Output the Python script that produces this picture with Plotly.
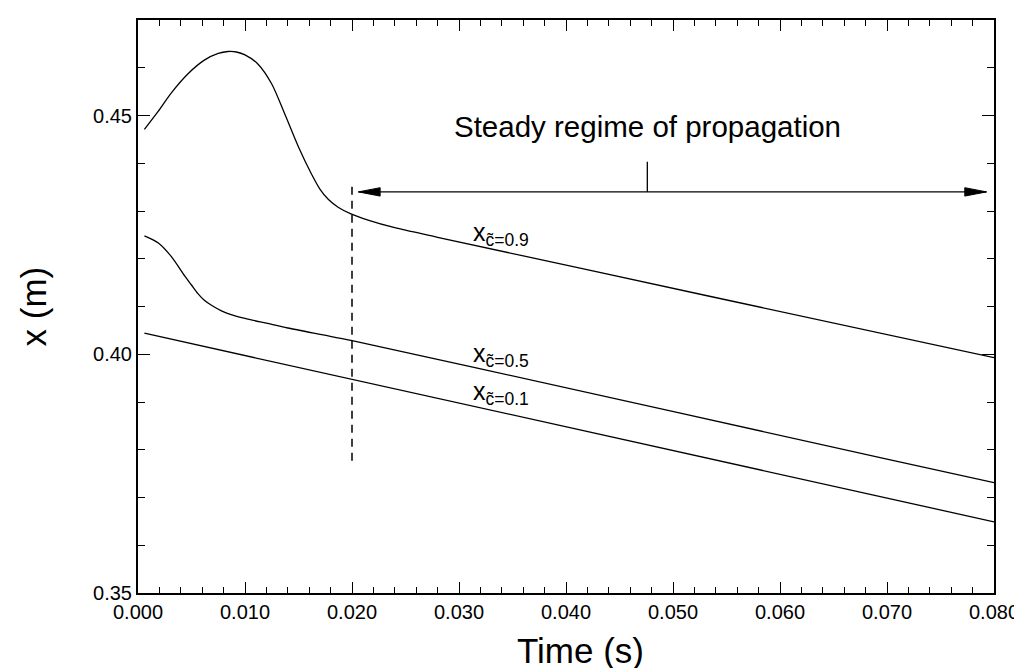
import plotly.graph_objects as go

# curve readings (time in s, position in m)
t_09 = [0.0006, 0.0019, 0.0031, 0.0047, 0.0062, 0.0075, 0.0084, 0.0092, 0.0100, 0.0112,
        0.0125, 0.0137, 0.0150, 0.0162, 0.0170, 0.0178, 0.0187, 0.0199, 0.0215, 0.0240,
        0.0280, 0.0533, 0.0800]
x_09 = [0.4471, 0.4509, 0.4547, 0.4588, 0.4616, 0.4630, 0.4634, 0.4633, 0.4627, 0.4608,
        0.4566, 0.4504, 0.4434, 0.4378, 0.4346, 0.4324, 0.4308, 0.4294, 0.4281, 0.4265,
        0.4245, 0.4122, 0.3993]

t_05 = [0.0006, 0.0019, 0.0031, 0.0044, 0.0050, 0.0056, 0.0062, 0.0069, 0.0078, 0.0087,
        0.0100, 0.0120, 0.0140, 0.0199, 0.0315, 0.0701, 0.0800]
x_05 = [0.4248, 0.4233, 0.4205, 0.4163, 0.4145, 0.4127, 0.4113, 0.4102, 0.4091, 0.4083,
        0.4075, 0.4065, 0.4055, 0.4029, 0.3972, 0.3780, 0.3731]

t_01 = [0.0006, 0.0199, 0.0701, 0.0800]
x_01 = [0.4044, 0.3948, 0.3698, 0.3649]

curve_labels = ["0.9", "0.5", "0.1"]
label_t = [0.0311, 0.0311, 0.0311]
label_x = [0.4252, 0.3998, 0.3919]

# steady regime marker
t_steady = 0.020
dash_x = [0.4351, 0.3765]
arrow_t = [0.0206, 0.0793]
arrow_x = 0.4340
mark_t = 0.0476
mark_x = [0.4340, 0.4403]
text_x = 0.4476

# arrowhead size in data units (about 22 px long, 9 px wide)
head_len = 0.00203
head_half = 0.00088

FONT = "Liberation Sans, Arial, sans-serif"
line = dict(color="black", width=1.3)

fig = go.Figure()
fig.add_trace(go.Scatter(x=t_09, y=x_09, mode="lines", line=dict(shape="spline", smoothing=0.8, **line)))
fig.add_trace(go.Scatter(x=t_05, y=x_05, mode="lines", line=dict(shape="spline", smoothing=0.8, **line)))
fig.add_trace(go.Scatter(x=t_01, y=x_01, mode="lines", line=line))

# dashed vertical line at start of steady regime
fig.add_trace(go.Scatter(x=[t_steady, t_steady], y=dash_x, mode="lines",
                         line=dict(color="black", width=1.5, dash="8px,6px")))
# small vertical tick on the arrow
fig.add_trace(go.Scatter(x=[mark_t, mark_t], y=mark_x, mode="lines", line=line))

# double arrow: shaft and two filled heads
fig.add_trace(go.Scatter(x=arrow_t, y=[arrow_x, arrow_x], mode="lines", line=line))
left_t, right_t = arrow_t
fig.add_trace(go.Scatter(
    x=[left_t, left_t + head_len, left_t + head_len, left_t],
    y=[arrow_x, arrow_x + head_half, arrow_x - head_half, arrow_x],
    mode="lines", fill="toself", fillcolor="black", line=dict(color="black", width=1)))
fig.add_trace(go.Scatter(
    x=[right_t, right_t - head_len, right_t - head_len, right_t],
    y=[arrow_x, arrow_x + head_half, arrow_x - head_half, arrow_x],
    mode="lines", fill="toself", fillcolor="black", line=dict(color="black", width=1)))

fig.add_annotation(x=mark_t, y=text_x, xref="x", yref="y", text="Steady regime of propagation",
                   showarrow=False, font=dict(family=FONT, size=29.5, color="black"),
                   xanchor="center", yanchor="middle")

for lab, lt, lx in zip(curve_labels, label_t, label_x):
    fig.add_annotation(x=lt, y=lx, xref="x", yref="y",
                       text="x<sub>c\u0303=" + lab + "</sub>",
                       showarrow=False, font=dict(family=FONT, size=25, color="black"),
                       xanchor="left", yanchor="middle")

# axis titles
fig.add_annotation(x=0.5175, y=-0.101, xref="paper", yref="paper", text="Time (s)",
                   showarrow=False, font=dict(family=FONT, size=35, color="black"),
                   xanchor="center", yanchor="middle")
fig.add_annotation(x=-0.1215, y=0.5, xref="paper", yref="paper", text="x (m)", textangle=-90,
                   showarrow=False, font=dict(family=FONT, size=35, color="black"),
                   xanchor="center", yanchor="middle")

axis_common = dict(showline=True, linecolor="black", linewidth=2, mirror="allticks",
                   ticks="inside", tickcolor="black", tickwidth=1.3, showgrid=False,
                   zeroline=False, tickfont=dict(family=FONT, size=20, color="black"))

fig.update_xaxes(range=[0, 0.08], dtick=0.01, tick0=0, tickformat=".3f", ticklen=11,
                 minor=dict(dtick=0.002, ticks="inside", ticklen=6, tickcolor="black", tickwidth=1.3),
                 **axis_common)
fig.update_yaxes(range=[0.35, 0.47], dtick=0.05, tick0=0.35, tickformat=".2f", ticklen=12,
                 minor=dict(dtick=0.01, ticks="inside", ticklen=7, tickcolor="black", tickwidth=1.3),
                 **axis_common)

fig.update_layout(width=1022, height=668, showlegend=False,
                  plot_bgcolor="white", paper_bgcolor="white",
                  margin=dict(l=130, r=36, t=10, b=83))

fig.write_html("out.html")
